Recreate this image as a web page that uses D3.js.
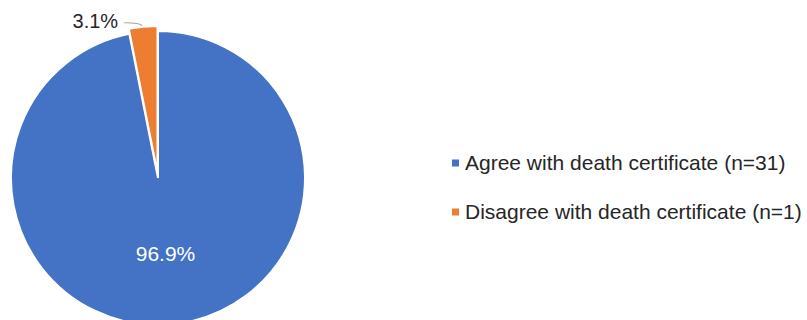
<!DOCTYPE html>
<html>
<head>
<meta charset="utf-8">
<script src="https://cdn.jsdelivr.net/npm/d3@7"></script>
<style>
  body { margin: 0; background: white; }
  svg { font-family: "Liberation Sans", Arial, sans-serif; }
</style>
</head>
<body>
<svg id="chart" width="807" height="320"></svg>
<script>
// data
const categories = ["Agree with death certificate (n=31)", "Disagree with death certificate (n=1)"];
const counts = [31, 1];
const pctLabels = ["96.9%", "3.1%"];
const colors = ["#4472C4", "#ED7D31"];

const svg = d3.select("#chart");
const cx = 158, cy = 178, radius = 147;

const pie = d3.pie().sort(null).value(d => d)(counts);
const arc = d3.arc().innerRadius(0).outerRadius(radius);

const g = svg.append("g").attr("transform", `translate(${cx},${cy})`);

// explode the small slice a bit
const explode = [0, 5];
g.selectAll("path")
    .data(pie)
    .enter()
    .append("path")
    .attr("d", arc)
    .attr("fill", (d, i) => colors[i])
    .attr("stroke", "white")
    .attr("stroke-width", 2)
    .attr("transform", (d, i) => {
        const mid = (d.startAngle + d.endAngle) / 2;
        const dx = Math.sin(mid) * explode[i];
        const dy = -Math.cos(mid) * explode[i];
        return `translate(${dx},${dy})`;
    });

// big label inside
const big = pie[0];
const midBig = (big.startAngle + big.endAngle) / 2;
g.append("text")
    .attr("x", Math.sin(midBig) * radius * 0.52)
    .attr("y", -Math.cos(midBig) * radius * 0.52)
    .attr("text-anchor", "middle")
    .attr("dy", "0.35em")
    .attr("fill", "white")
    .style("font-size", "21px")
    .text(pctLabels[0]);

// small label outside with leader
const sm = pie[1];
const midSm = (sm.startAngle + sm.endAngle) / 2;
const edge = [Math.sin(midSm) * (radius + 5), -Math.cos(midSm) * (radius + 5)];
g.append("path")
    .attr("d", `M${edge[0] - 1},${edge[1] - 1} Q${edge[0] - 3},${edge[1] - 4} ${edge[0] - 19},${edge[1] - 4}`)
    .attr("fill", "none")
    .attr("stroke", "#A6A6A6")
    .attr("stroke-width", 1.2);
g.append("text")
    .attr("x", edge[0] - 25)
    .attr("y", edge[1] - 6)
    .attr("text-anchor", "end")
    .attr("dy", "0.35em")
    .attr("fill", "#262626")
    .style("font-size", "20px")
    .text(pctLabels[1]);

// legend
const legend = svg.append("g").attr("transform", "translate(452,163)");
const item = legend.selectAll("g")
    .data(categories)
    .enter()
    .append("g")
    .attr("transform", (d, i) => `translate(0,${i * 49})`);
item.append("rect")
    .attr("x", 0)
    .attr("y", -3.5)
    .attr("width", 7)
    .attr("height", 7)
    .attr("fill", (d, i) => colors[i]);
item.append("text")
    .attr("x", 13)
    .attr("y", 0)
    .attr("dy", "0.35em")
    .attr("fill", "#262626")
    .style("font-size", "21px")
    .text(d => d);
</script>
</body>
</html>
